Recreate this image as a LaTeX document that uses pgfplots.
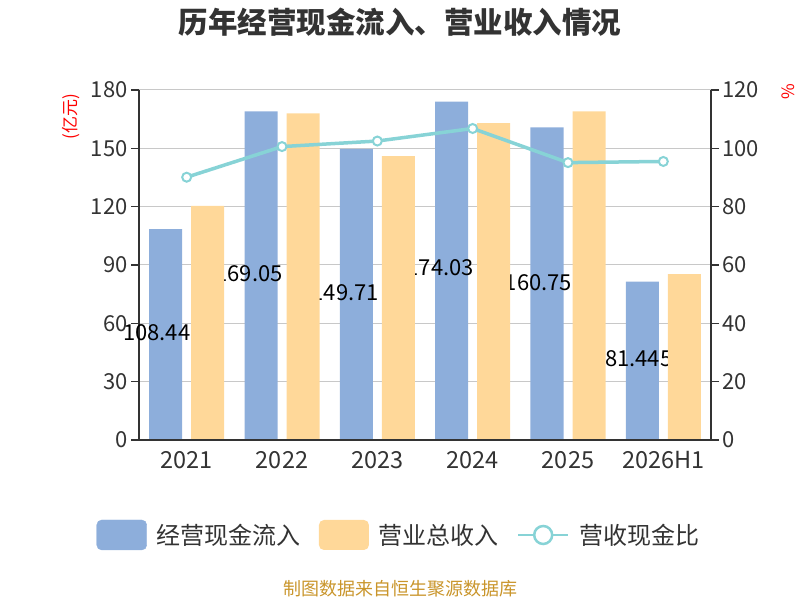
\documentclass[border=0pt]{standalone}
\usepackage{pgfplots}
\pgfplotsset{compat=1.18}
\usepackage{fontspec}
\setmainfont{Noto Sans CJK SC}
\definecolor{cblue}{HTML}{8DAEDB}
\definecolor{corange}{HTML}{FFD899}
\definecolor{cteal}{HTML}{87D3D6}
\definecolor{ctext}{HTML}{333333}
\definecolor{cgrid}{HTML}{C8C8C8}
\definecolor{cfoot}{HTML}{C9952B}
\pgfplotsset{
  common/.style={
    at={(139bp,160bp)}, anchor=south west,
    scale only axis, width=572bp, height=350bp,
    xmin=-0.5, xmax=5.5,
    axis line style={ctext, line width=1.2bp},
    major tick length=8bp, minor tick length=8bp, tick align=outside,
    yticklabel style={font=\fontsize{22bp}{26bp}\selectfont, text=ctext},
    xticklabel style={font=\fontsize{23.5bp}{28bp}\selectfont, text=ctext},
    /pgf/number format/assume math mode=true,
  }
}
\begin{document}
\begin{tikzpicture}
\useasboundingbox (0,0) rectangle (800bp,600bp);
\node[font=\fontsize{29.5bp}{34bp}\selectfont\bfseries, text=ctext] at (400bp,578bp) {历年经营现金流入、营业收入情况};
\node[font=\fontsize{18bp}{22bp}\selectfont, text=cfoot] at (400bp,11bp) {制图数据来自恒生聚源数据库};
\node[font=\fontsize{17bp}{20bp}\selectfont, text=red, rotate=90] at (71bp,483bp) {(亿元)};
\node[font=\fontsize{17bp}{20bp}\selectfont, text=red, rotate=90] at (788bp,508bp) {\%};
% axis 1: left axis, grid, blue bars, labels
\begin{axis}[common,
  clip=false,
  ymin=0, ymax=180,
  axis y line*=left, axis x line=none,
  ytick={0,30,...,180},
  y tick style={ctext, line width=1.2bp},
  ymajorgrids, grid style={cgrid, line width=1bp},
]
\addplot[ybar, bar width=33bp, bar shift=-21bp, fill=cblue, draw=none]
  coordinates {(0,108.44) (1,169.05) (2,149.71) (3,174.03) (4,160.75) (5,81.445)};
\node[anchor=west, inner sep=0pt, font=\fontsize{22bp}{26bp}\selectfont] at (axis cs:-0.668,55.3) {108.44};
\node[anchor=west, inner sep=0pt, font=\fontsize{22bp}{26bp}\selectfont] at (axis cs:0.30,85.7) {169.05};
\node[anchor=west, inner sep=0pt, font=\fontsize{22bp}{26bp}\selectfont] at (axis cs:1.31,75.9) {149.71};
\node[anchor=west, inner sep=0pt, font=\fontsize{22bp}{26bp}\selectfont] at (axis cs:2.305,88.7) {174.03};
\node[anchor=west, inner sep=0pt, font=\fontsize{22bp}{26bp}\selectfont] at (axis cs:3.335,81.0) {160.75};
\node[anchor=west, inner sep=0pt, font=\fontsize{22bp}{26bp}\selectfont] at (axis cs:4.388,42.0) {81.445};
\end{axis}
% axis 2: orange bars and legend
\begin{axis}[common,
  ymin=0, ymax=180, hide axis,
  legend style={at={(0.4563,-0.2714)}, anchor=center, draw=none, fill=none,
    font=\fontsize{24bp}{27bp}\selectfont, text=ctext,
    /tikz/every even column/.append style={column sep=14bp},
    /tikz/every odd column/.append style={column sep=6bp},
    nodes={inner sep=4bp}},
  legend columns=3,
]
\addlegendimage{legend image code/.code={\fill[cblue, rounded corners=5bp] (0bp,-15bp) rectangle (50bp,15bp);}}
\addlegendentry{经营现金流入}
\addplot[ybar, bar width=33bp, bar shift=21bp, fill=corange, draw=none,
  legend image code/.code={\fill[corange, rounded corners=5bp] (0bp,-15bp) rectangle (50bp,15bp);}]
  coordinates {(0,120.4) (1,168.0) (2,146.0) (3,163.0) (4,169.0) (5,85.3)};
\addlegendentry{营业总收入}
\addlegendimage{legend image code/.code={
  \draw[cteal, line width=2.5bp] (0bp,0bp) -- (50bp,0bp);
  \draw[cteal, fill=white, line width=2.5bp] (25bp,0bp) circle (9bp);}}
\addlegendentry{营收现金比}
\end{axis}
% axis 3: x axis, right axis, line
\begin{axis}[common,
  ymin=0, ymax=120,
  axis x line*=bottom, axis y line*=right,
  xtick={0,...,5}, xticklabels={2021,2022,2023,2024,2025,2026H1},
  minor xtick={-0.5,0.5,...,5.5},
  xtick style={draw=none},
  minor x tick style={ctext, line width=1.2bp},
  ytick={0,20,...,120},
  y tick style={ctext, line width=1.2bp},
]
\addplot[cteal, line width=3.5bp, mark=*, mark size=4.5bp,
  mark options={fill=white, draw=cteal, line width=2bp}]
  coordinates {(0,90.1) (1,100.6) (2,102.5) (3,106.8) (4,95.1) (5,95.5)};
\end{axis}
\end{tikzpicture}
\end{document}
